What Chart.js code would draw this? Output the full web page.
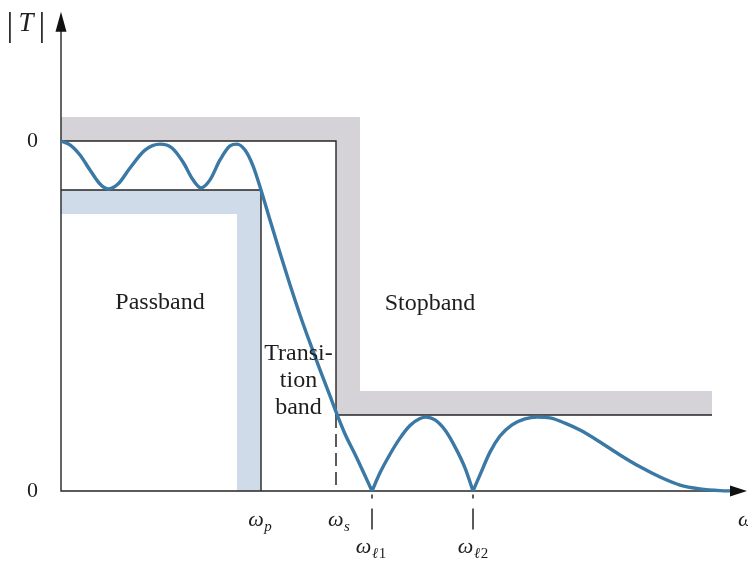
<!DOCTYPE html>
<html>
<head>
<meta charset="utf-8">
<script src="https://cdn.jsdelivr.net/npm/chart.js@4/dist/chart.umd.min.js"></script>
<style>
  html, body { margin: 0; padding: 0; background: #ffffff; }
  #wrap { width: 748px; height: 564px; }
</style>
</head>
<body>
<div id="wrap"><canvas id="c" width="748" height="564"></canvas></div>
<script>
// Filter specification: band edges (rad/s, arbitrary units) and magnitude levels
const edgeFreqs = [2.0, 2.75];        // ωp, ωs
const nullFreqs = [3.11, 4.12];       // ωℓ1, ωℓ2 (transmission zeros)
const specLevels = [1.0, 0.86, 0.217]; // 0 dB, passband floor, stopband ceiling
const tickLabels = ['ωp', 'ωs', 'ωℓ1', 'ωℓ2'];
const bandLabels = ['Passband', 'Stopband'];
const transitionLabel = ['Transi-', 'tion', 'band'];

// Magnitude response |T(jω)|
const curveX = [0, 0.09, 0.19, 0.29, 0.39, 0.47, 0.57, 0.69, 0.84, 0.99, 1.11, 1.22, 1.32, 1.40,
  1.49, 1.59, 1.69, 1.76, 1.84, 1.92, 2.00, 2.09, 2.19, 2.29, 2.39, 2.49, 2.59, 2.69, 2.75,
  2.84, 2.94, 3.03, 3.11, 3.19, 3.29, 3.39, 3.49, 3.59, 3.65, 3.74, 3.84, 3.94, 4.04, 4.12,
  4.19, 4.29, 4.39, 4.51, 4.64, 4.76, 4.89, 5.04, 5.19, 5.39, 5.59, 5.79, 5.99, 6.19, 6.39, 6.59, 6.74];
const curveY = [1.0, 0.989, 0.96, 0.917, 0.877, 0.863, 0.877, 0.923, 0.974, 0.991, 0.98, 0.94, 0.889, 0.866,
  0.889, 0.946, 0.986, 0.991, 0.974, 0.929, 0.86, 0.774, 0.68, 0.589, 0.503, 0.423, 0.346, 0.272, 0.226,
  0.163, 0.105, 0.05, 0, 0.052, 0.105, 0.151, 0.187, 0.207, 0.211, 0.203, 0.174, 0.126, 0.066, 0,
  0.046, 0.111, 0.157, 0.189, 0.206, 0.211, 0.209, 0.194, 0.174, 0.14, 0.103, 0.069, 0.04, 0.017, 0.006, 0.001, 0];

const INK = '#262626';
const CURVE = '#3a78a5';
const GRAY = '#d5d3d7';
const BLUE = '#cfdbe8';
const SERIF = '"Liberation Serif", "DejaVu Serif", serif';

// band thickness in data units
const bandW = 0.24, bandH = 0.0686;
const wp = edgeFreqs[0], ws = edgeFreqs[1];
const zeroLevel = specLevels[0], pFloor = specLevels[1], sCeil = specLevels[2];
const xEnd = 6.51;

// split the response at its zeros so the cusps stay sharp
const segments = [];
let cur = [];
curveX.forEach((x, i) => {
  cur.push({ x, y: curveY[i] });
  if (curveY[i] === 0 && i > 0 && i < curveX.length - 1) {
    segments.push(cur);
    cur = [{ x, y: 0 }];
  }
});
segments.push(cur);

const curveSets = segments.map(pts => ({
  data: pts, showLine: true, borderColor: CURVE, borderWidth: 3.4,
  pointRadius: 0, cubicInterpolationMode: 'monotone', fill: false
}));

const line = (pts, extra) => Object.assign({
  data: pts.map(p => ({ x: p[0], y: p[1] })), showLine: true, borderColor: INK,
  borderWidth: 1.4, pointRadius: 0, tension: 0, fill: false
}, extra || {});

const stopShape = [[0, zeroLevel + bandH], [ws + bandW, zeroLevel + bandH], [ws + bandW, sCeil + bandH],
  [xEnd, sCeil + bandH], [xEnd, sCeil], [ws, sCeil], [ws, zeroLevel], [0, zeroLevel], [0, zeroLevel + bandH]];
const passShape = [[0, pFloor], [wp, pFloor], [wp, 0], [wp - bandW, 0], [wp - bandW, pFloor - bandH],
  [0, pFloor - bandH], [0, pFloor]];

const datasets = [
  ...curveSets,
  line([[0, 1.33], [0, 0], [6.80, 0]]),
  line([[0, zeroLevel], [ws, zeroLevel], [ws, sCeil], [xEnd, sCeil]]),
  line([[0, pFloor], [wp, pFloor], [wp, 0]]),
  line([[ws, sCeil], [ws, 0]], { borderDash: [13, 6], borderWidth: 1.5 }),
  line([[nullFreqs[0], -0.01], [nullFreqs[0], -0.11]], { borderDash: [4, 10, 26], borderWidth: 1.5 }),
  line([[nullFreqs[1], -0.01], [nullFreqs[1], -0.11]], { borderDash: [4, 10, 26], borderWidth: 1.5 }),
  line(stopShape, { borderWidth: 0, borderColor: GRAY, backgroundColor: GRAY, fill: 'shape' }),
  line(passShape, { borderWidth: 0, borderColor: BLUE, backgroundColor: BLUE, fill: 'shape' })
];

function drawSymbol(ctx, x, y, main, sub, size, align) {
  const mainFont = 'italic ' + size + 'px ' + SERIF;
  const subSize = Math.round(size * 0.68);
  const parts = [];
  ctx.font = mainFont;
  let w = ctx.measureText(main).width;
  parts.push({ t: main, f: mainFont, dx: 0, dy: 0 });
  for (const ch of sub) {
    const f = (/[0-9]/.test(ch) ? '' : 'italic ') + subSize + 'px ' + SERIF;
    ctx.font = f;
    parts.push({ t: ch, f, dx: w + 0.5, dy: size * 0.22 });
    w += ctx.measureText(ch).width + 0.5;
  }
  const x0 = align === 'left' ? x : x - w / 2;
  ctx.textAlign = 'left';
  ctx.textBaseline = 'alphabetic';
  parts.forEach(p => { ctx.font = p.f; ctx.fillText(p.t, x0 + p.dx, y + p.dy); });
}

const annotate = {
  id: 'annotate',
  afterDatasetsDraw(chart) {
    const { ctx, scales: { x, y } } = chart;
    const px = v => x.getPixelForValue(v);
    const py = v => y.getPixelForValue(v);
    ctx.save();
    ctx.fillStyle = '#111';
    // arrowheads
    const ax = px(0), ay = py(0);
    ctx.beginPath();
    ctx.moveTo(ax, py(1.369)); ctx.lineTo(ax - 5.5, py(1.369) + 20); ctx.lineTo(ax + 5.5, py(1.369) + 20);
    ctx.closePath(); ctx.fill();
    const tipX = px(6.86);
    ctx.beginPath();
    ctx.moveTo(tipX, ay); ctx.lineTo(tipX - 17, ay - 5.5); ctx.lineTo(tipX - 17, ay + 5.5);
    ctx.closePath(); ctx.fill();

    ctx.fillStyle = '#1e1e1e';
    // |T| axis title
    ctx.font = '34px ' + SERIF;
    ctx.textBaseline = 'alphabetic';
    ctx.textAlign = 'center';
    ctx.fillText('|', 10, 36);
    ctx.fillText('|', 42, 36);
    ctx.font = 'italic 27px ' + SERIF;
    ctx.fillText('T', 26, 31);

    // level ticks
    ctx.font = '22px ' + SERIF;
    ctx.textAlign = 'right';
    ctx.textBaseline = 'middle';
    ctx.fillText('0', ax - 23, py(zeroLevel));
    ctx.fillText('0', ax - 23, ay);

    // frequency labels
    drawSymbol(ctx, px(wp) - 1, ay + 35, 'ω', 'p', 22);
    drawSymbol(ctx, px(ws) + 3, ay + 35, 'ω', 's', 22);
    drawSymbol(ctx, px(nullFreqs[0]) - 1, ay + 62, 'ω', 'ℓ1', 22);
    drawSymbol(ctx, px(nullFreqs[1]), ay + 62, 'ω', 'ℓ2', 22);
    drawSymbol(ctx, 738, ay + 35, 'ω', '', 22, 'left');

    // region names
    ctx.font = '24px ' + SERIF;
    ctx.textAlign = 'center';
    ctx.textBaseline = 'middle';
    ctx.fillText(bandLabels[0], px(0.99), py(0.537));
    ctx.fillText(bandLabels[1], px(3.69), py(0.534));
    const tx = px(2.375);
    [0.391, 0.314, 0.237].forEach((lv, i) => ctx.fillText(transitionLabel[i], tx, py(lv)));
    ctx.restore();
  }
};

new Chart(document.getElementById('c'), {
  type: 'scatter',
  data: { datasets },
  options: {
    responsive: false,
    animation: false,
    devicePixelRatio: 1,
    layout: { padding: 0 },
    plugins: { legend: { display: false }, tooltip: { enabled: false } },
    scales: {
      x: { type: 'linear', display: false, min: -0.61, max: 6.87 },
      y: { type: 'linear', display: false, min: -73 / 350, max: 491 / 350 }
    }
  },
  plugins: [annotate]
});
</script>
</body>
</html>
